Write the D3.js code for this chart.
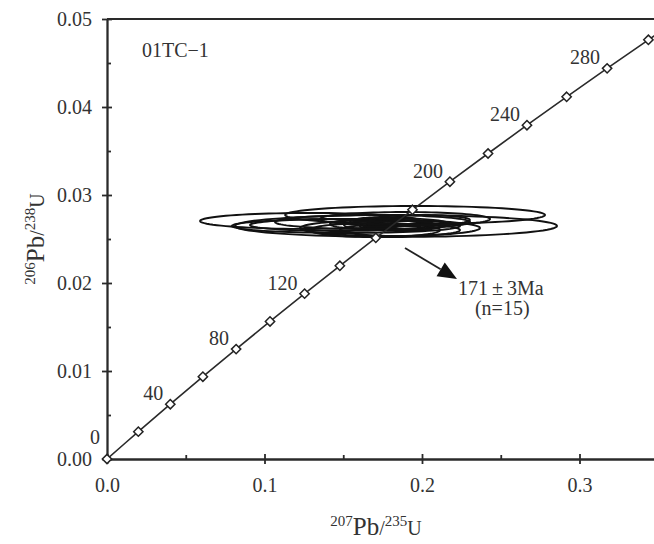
<!DOCTYPE html>
<html>
<head>
<meta charset="utf-8">
<script src="https://cdn.jsdelivr.net/npm/d3@7"></script>
<style>
  body { margin: 0; background: #fff; }
  text { font-family: "Liberation Serif", "DejaVu Serif", serif; fill: #333; }
</style>
</head>
<body>
<div id="chart"></div>
<script>
// concordia points (age in Ma, ratios read at each 20 Ma marker)
const ages = [0, 20, 40, 60, 80, 100, 120, 140, 160, 180, 200, 220, 240, 260, 280, 300, 320];
const pb207u235 = [0, 0.01989, 0.04018, 0.06087, 0.08198, 0.10350, 0.12545, 0.14784, 0.17067,
  0.19396, 0.21771, 0.24193, 0.26664, 0.29183, 0.31753, 0.34374, 0.37047];
const pb206u238 = [0, 0.003107, 0.006224, 0.009351, 0.012487, 0.015633, 0.018789, 0.021955, 0.025131,
  0.028316, 0.031511, 0.034716, 0.037932, 0.041157, 0.044392, 0.047637, 0.050893];
const labelAges = [0, 40, 80, 120, 200, 240, 280];

// analysis error ellipses (centre and half axes)
const ellCx = [0.1289, 0.1517, 0.1479, 0.1686, 0.1956, 0.1835, 0.1797, 0.1892, 0.1797, 0.1860, 0.1765, 0.1860, 0.1702, 0.1987, 0.1683];
const ellCy = [0.02705, 0.02648, 0.02659, 0.02693, 0.02773, 0.02648, 0.02625, 0.02727, 0.02670, 0.02602, 0.02693, 0.02648, 0.02602, 0.02716, 0.02659];
const ellSx = [0.0698, 0.0724, 0.0571, 0.0619, 0.0825, 0.1022, 0.0571, 0.0540, 0.0381, 0.0381, 0.0222, 0.0254, 0.0413, 0.0317, 0.0178];
const ellSy = [0.00091, 0.00080, 0.00068, 0.00080, 0.00102, 0.00125, 0.00091, 0.00080, 0.00068, 0.00068, 0.00057, 0.00057, 0.00080, 0.00057, 0.00045];

const xTicks = [0, 0.1, 0.2, 0.3];
const xMinor = [0.05, 0.15, 0.25];
const yTicks = [0, 0.01, 0.02, 0.03, 0.04, 0.05];
const yMinor = [0.005, 0.015, 0.025, 0.035, 0.045];

const width = 654, height = 544;
const mLeft = 107, mTop = 19, mBottom = 459;

const svg = d3.select("#chart").append("svg")
  .attr("width", width)
  .attr("height", height);

const x = d3.scaleLinear().domain([0, 0.35]).range([mLeft, mLeft + 0.35 * 1575]);
const y = d3.scaleLinear().domain([0, 0.05]).range([mBottom, mTop]);

svg.append("clipPath").attr("id", "plot")
  .append("rect").attr("x", mLeft).attr("y", mTop).attr("width", width - mLeft).attr("height", mBottom - mTop);

// axes
const gx = svg.append("g").attr("transform", `translate(0,${mBottom})`)
  .call(d3.axisBottom(x).tickValues(xTicks).tickFormat(d3.format(".1f")).tickSizeOuter(0).tickPadding(13));
gx.selectAll(".tick line").attr("y1", -5).attr("y2", 5);
svg.append("g").attr("transform", `translate(0,${mBottom})`)
  .call(d3.axisBottom(x).tickValues(xMinor).tickFormat("").tickSize(-4).tickSizeOuter(0));

const gy = svg.append("g").attr("transform", `translate(${mLeft},0)`)
  .call(d3.axisLeft(y).tickValues(yTicks).tickFormat(d3.format(".2f")).tickSizeOuter(0).tickPadding(9));
gy.selectAll(".tick line").attr("x1", -5).attr("x2", 5);
svg.append("g").attr("transform", `translate(${mLeft},0)`)
  .call(d3.axisLeft(y).tickValues(yMinor).tickFormat("").tickSize(-4).tickSizeOuter(0));

svg.selectAll(".domain, .tick line").attr("stroke", "#2a2a2a").attr("stroke-width", 1.8);
svg.selectAll(".tick text").style("font-size", "20px").attr("fill", "#333")
  .style("font-family", "'Liberation Serif', serif");

// top frame line
svg.append("line").attr("x1", mLeft).attr("x2", width).attr("y1", mTop).attr("y2", mTop)
  .attr("stroke", "#2a2a2a").attr("stroke-width", 1.8);

// ellipses
const plot = svg.append("g").attr("clip-path", "url(#plot)");
const ellLine = d3.line().curve(d3.curveLinearClosed);
plot.selectAll("path.ell")
  .data(d3.range(ellCx.length))
  .join("path")
    .attr("class", "ell")
    .attr("d", i => ellLine(d3.range(90).map(k => {
      const a = k / 90 * 2 * Math.PI;
      return [x(ellCx[i] + ellSx[i] * Math.cos(a)), y(ellCy[i] + ellSy[i] * Math.sin(a))];
    })))
    .attr("fill", "none")
    .attr("stroke", "#111")
    .attr("stroke-width", 1.9);

// concordia
const conc = ages.map((a, i) => ({ age: a, x: pb207u235[i], y: pb206u238[i] }));
plot.append("path")
  .datum(conc)
  .attr("d", d3.line().x(d => x(d.x)).y(d => y(d.y)).curve(d3.curveCatmullRom))
  .attr("fill", "none")
  .attr("stroke", "#2a2a2a")
  .attr("stroke-width", 1.6);

svg.selectAll("path.mk")
  .data(conc.filter(d => d.age <= 300))
  .join("path")
    .attr("class", "mk")
    .attr("transform", d => `translate(${x(d.x)},${y(d.y)})`)
    .attr("d", d3.symbol(d3.symbolDiamond2, 55))
    .attr("fill", "#fff")
    .attr("stroke", "#222")
    .attr("stroke-width", 1.5);

svg.selectAll("text.age")
  .data(conc.filter(d => labelAges.includes(d.age)))
  .join("text")
    .attr("class", "age")
    .attr("x", d => x(d.x) - 7)
    .attr("y", d => y(d.y) - (d.age === 0 ? 15 : 4))
    .attr("text-anchor", "end")
    .style("font-size", "20px")
    .text(d => d.age);

// sample name
svg.append("text").attr("x", 142).attr("y", 57).style("font-size", "20px").text("01TC\u22121");

// arrow + age annotation
const arrowFrom = [0.1892, 0.02398], arrowTo = [0.2222, 0.02045];
const ax0 = x(arrowFrom[0]), ay0 = y(arrowFrom[1]), ax1 = x(arrowTo[0]), ay1 = y(arrowTo[1]);
const ang = Math.atan2(ay1 - ay0, ax1 - ax0);
const hl = 19, hw = 8;
const bx = ax1 - hl * Math.cos(ang), by = ay1 - hl * Math.sin(ang);
svg.append("line").attr("x1", ax0).attr("y1", ay0).attr("x2", bx).attr("y2", by)
  .attr("stroke", "#222").attr("stroke-width", 1.8);
svg.append("path")
  .attr("d", `M${ax1},${ay1}L${bx - hw * Math.sin(ang)},${by + hw * Math.cos(ang)}L${bx + hw * Math.sin(ang)},${by - hw * Math.cos(ang)}Z`)
  .attr("fill", "#111");

svg.append("text").attr("x", ax1 + 1).attr("y", 295).style("font-size", "20px").text("171\u2009\u00b1\u20093Ma");
svg.append("text").attr("x", ax1 + 18).attr("y", 315).style("font-size", "20px").text("(n=15)");

// axis titles
const xt = svg.append("text").attr("x", 376).attr("y", 535).attr("text-anchor", "middle");
xt.append("tspan").style("font-size", "15px").attr("dy", -9).text("207");
xt.append("tspan").style("font-size", "25px").attr("dy", 9).text("Pb");
xt.append("tspan").style("font-size", "20px").text("/");
xt.append("tspan").style("font-size", "15px").attr("dy", -9).text("235");
xt.append("tspan").style("font-size", "20px").attr("dy", 9).text("U");

const yt = svg.append("text").attr("transform", "translate(44,239) rotate(-90)").attr("text-anchor", "middle");
yt.append("tspan").style("font-size", "15px").attr("dy", -9).text("206");
yt.append("tspan").style("font-size", "25px").attr("dy", 9).text("Pb");
yt.append("tspan").style("font-size", "20px").text("/");
yt.append("tspan").style("font-size", "15px").attr("dy", -9).text("238");
yt.append("tspan").style("font-size", "20px").attr("dy", 9).text("U");
</script>
</body>
</html>
